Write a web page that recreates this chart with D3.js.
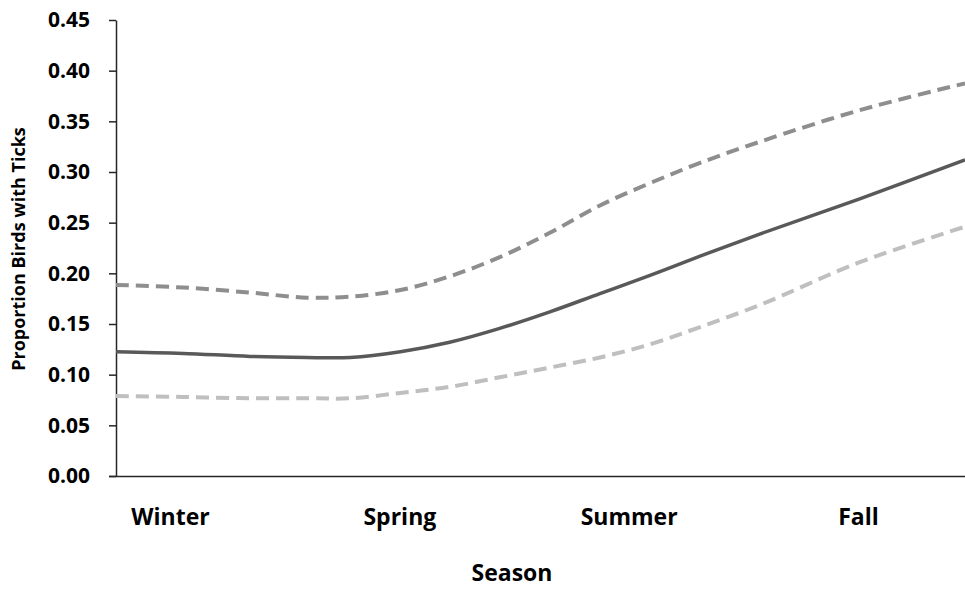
<!DOCTYPE html>
<html>
<head>
<meta charset="utf-8">
<script src="https://cdn.jsdelivr.net/npm/d3@7"></script>
<style>
  html, body { margin: 0; padding: 0; background: #fff; }
  svg { display: block; }
  text { font-family: "Open Sans", Lato, sans-serif; font-weight: 700; fill: #000; }
</style>
</head>
<body>
<svg id="chart" width="965" height="590"></svg>
<script>
// Relative position through the year (0 = left edge of plot, 100 = right edge)
const position = [0, 7.9, 15.8, 22.5, 27.6, 33.5, 39.3, 45.2, 51.1, 57.0, 62.9, 68.8, 75.9, 87.6, 100];
const estimate = [0.1227, 0.121, 0.118, 0.117, 0.117, 0.1227, 0.132, 0.1457, 0.162, 0.180, 0.198, 0.217, 0.239, 0.2735, 0.312];
const upperCI  = [0.1885, 0.186, 0.181, 0.176, 0.177, 0.1835, 0.197, 0.216, 0.240, 0.267, 0.289, 0.309, 0.330, 0.361, 0.3875];
const lowerCI  = [0.079, 0.078, 0.0767, 0.0767, 0.0767, 0.082, 0.088, 0.0974, 0.107, 0.117, 0.130, 0.147, 0.169, 0.211, 0.246];
const seasons = ["Winter", "Spring", "Summer", "Fall"];
const yTicks = [0, 0.05, 0.10, 0.15, 0.20, 0.25, 0.30, 0.35, 0.40, 0.45];

(function () {
const svg = d3.select("#chart");
const mLeft = 116, mRight = 965, mTop = 20, mBottom = 476;

const x = d3.scaleLinear().domain([0, 100]).range([mLeft, mRight]);
const y = d3.scaleLinear().domain([0, 0.45]).range([mBottom, mTop]);
const xs = d3.scalePoint().domain(seasons).range([170, 858]);

// Y axis
const yAxis = svg.append("g")
  .attr("transform", `translate(${mLeft},0)`)
  .call(d3.axisLeft(y).tickValues(yTicks).tickFormat(d3.format(".2f")).tickSizeInner(7).tickSizeOuter(0).tickPadding(19));
yAxis.select(".domain").attr("stroke", "#262626").attr("stroke-width", 1.5);
yAxis.selectAll(".tick line").attr("stroke", "#262626").attr("stroke-width", 1.5);
yAxis.selectAll(".tick text").style("font-size", "21px").style("font-family", "'Open Sans', sans-serif").style("font-weight", "700").attr("fill", "#000");

// X axis
const xAxis = svg.append("g")
  .attr("transform", `translate(0,${mBottom})`)
  .call(d3.axisBottom(xs).tickSize(0).tickPadding(0));
xAxis.select(".domain").attr("d", `M${mLeft - 7},0.5H${mRight}`).attr("stroke", "#262626").attr("stroke-width", 1.5);
xAxis.selectAll(".tick text").attr("dy", null).attr("y", 49)
  .style("font-size", "23px").style("font-family", "'Open Sans', sans-serif").style("font-weight", "700").attr("fill", "#000");

const line = (vals) => d3.line()
  .x((d, i) => x(position[i]))
  .y(d => y(d))
  .curve(d3.curveCatmullRom.alpha(0.5))(vals);

svg.append("path").attr("d", line(lowerCI)).attr("fill", "none")
  .attr("stroke", "#bfbfbf").attr("stroke-width", 4).attr("stroke-dasharray", "13,7");
svg.append("path").attr("d", line(upperCI)).attr("fill", "none")
  .attr("stroke", "#8e8e8e").attr("stroke-width", 4).attr("stroke-dasharray", "13,7");
svg.append("path").attr("d", line(estimate)).attr("fill", "none")
  .attr("stroke", "#595959").attr("stroke-width", 3.5);

// Axis titles
svg.append("text").attr("x", 512).attr("y", 581).attr("text-anchor", "middle")
  .style("font-size", "23px").text("Season");
svg.append("text").attr("transform", "translate(25,249) rotate(-90)").attr("text-anchor", "middle")
  .style("font-size", "18px").style("font-weight", "700").text("Proportion Birds with Ticks");
})();
</script>
</body>
</html>
